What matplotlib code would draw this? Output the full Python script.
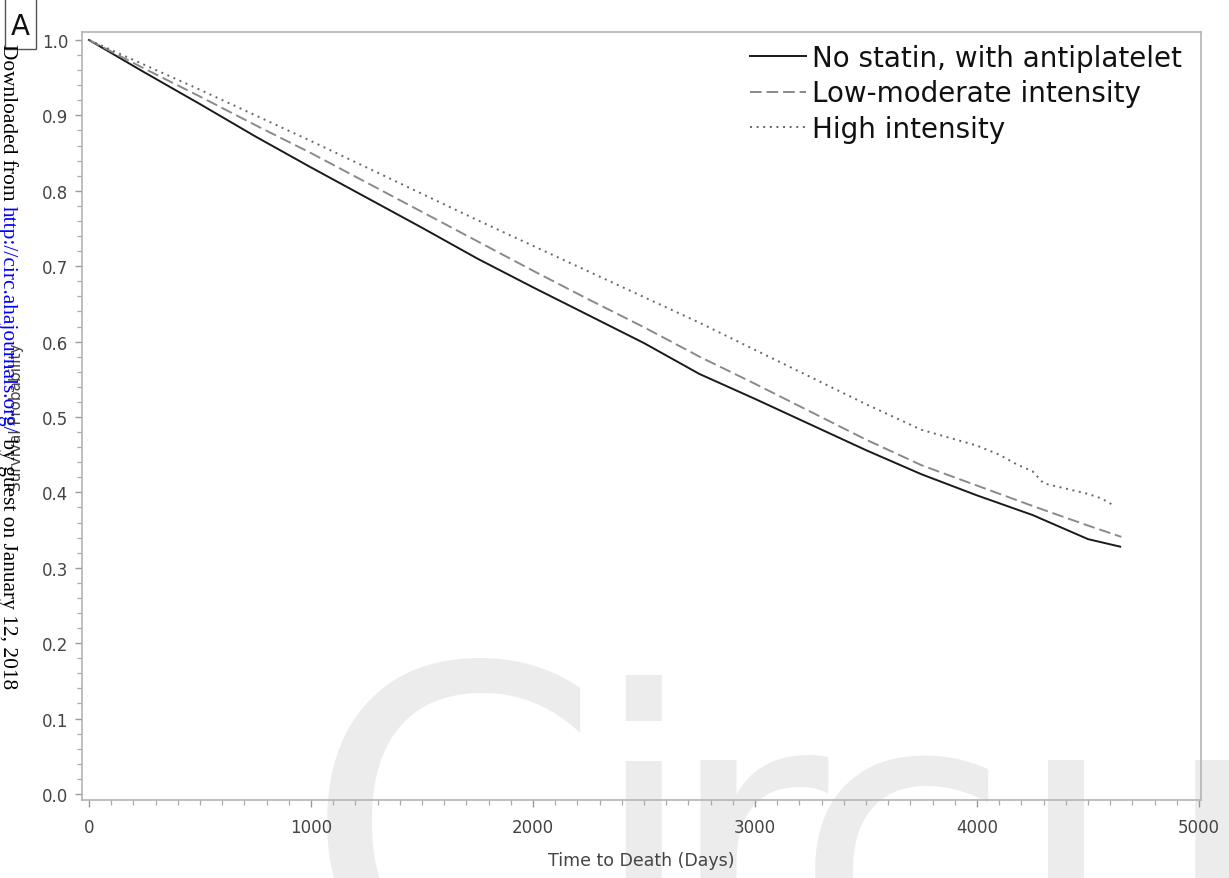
import matplotlib
matplotlib.use("Agg")
import matplotlib.pyplot as plt
from matplotlib.ticker import MultipleLocator, FormatStrFormatter
from matplotlib.patches import Rectangle

# ---- data ----
days_none = [0, 250, 500, 750, 1000, 1250, 1500, 1750, 2000, 2250, 2500, 2750,
             3000, 3250, 3500, 3750, 4000, 4250, 4500, 4645]
surv_none = [1.000, 0.957, 0.915, 0.872, 0.831, 0.791, 0.751, 0.710, 0.672, 0.635,
             0.598, 0.557, 0.524, 0.490, 0.456, 0.424, 0.396, 0.370, 0.338, 0.328]

days_low = [0, 250, 500, 750, 1000, 1250, 1500, 1750, 2000, 2250, 2500, 2750,
            3000, 3250, 3500, 3750, 4000, 4250, 4500, 4650]
surv_low = [1.000, 0.962, 0.925, 0.887, 0.850, 0.811, 0.772, 0.733, 0.694, 0.656,
            0.619, 0.580, 0.544, 0.507, 0.470, 0.436, 0.409, 0.382, 0.356, 0.341]

days_high = [0, 250, 500, 750, 1000, 1250, 1500, 1750, 2000, 2250, 2500, 2750,
             3000, 3250, 3500, 3750, 4000, 4100, 4180, 4250, 4300, 4400, 4500,
             4560, 4620]
surv_high = [1.000, 0.967, 0.934, 0.900, 0.866, 0.831, 0.796, 0.761, 0.727, 0.693,
             0.659, 0.625, 0.589, 0.553, 0.517, 0.483, 0.462, 0.450, 0.437, 0.428,
             0.412, 0.405, 0.398, 0.392, 0.382]

series_labels = ["No statin, with antiplatelet", "Low-moderate intensity", "High intensity"]
x_label = "Time to Death (Days)"
y_label = "Survival Probability"
x_ticks = [0, 1000, 2000, 3000, 4000, 5000]
y_ticks = [0.0, 0.1, 0.2, 0.3, 0.4, 0.5, 0.6, 0.7, 0.8, 0.9, 1.0]

W, H = 1229, 879
fig = plt.figure(figsize=(W / 100, H / 100), dpi=100)

def fx(px):
    return px / W

def fy(py):
    return 1 - py / H

# watermark (behind axes)
wm_color = "#ececec"
for ch, px, size in [("C", 303, 310), ("i", 587, 288), ("r", 664, 288),
                     ("c", 793, 288), ("u", 1014, 288)]:
    fig.text(fx(px), fy(979), ch, fontsize=size, color=wm_color,
             family="DejaVu Sans", ha="left", va="baseline", zorder=-5)

ax = fig.add_axes([fx(82), fy(801), fx(1201) - fx(82), fy(33) - fy(801)])
ax.patch.set_alpha(0)

ax.plot(days_none, surv_none, color="#1a1a1a", lw=1.4, solid_joinstyle="round",
        label=series_labels[0])
ax.plot(days_low, surv_low, color="#8a8a8a", lw=1.4, dashes=(6, 2.5),
        label=series_labels[1])
ax.plot(days_high, surv_high, color="#666666", lw=1.4, dashes=(1, 2.4),
        label=series_labels[2])

ax.set_xlim(-31.5, 5009)
ax.set_ylim(-0.008, 1.0106)
ax.set_xticks(x_ticks)
ax.set_yticks(y_ticks)
ax.xaxis.set_minor_locator(MultipleLocator(100))
ax.yaxis.set_minor_locator(MultipleLocator(0.02))
ax.yaxis.set_major_formatter(FormatStrFormatter("%.1f"))

for s in ax.spines.values():
    s.set_color("#b4b4b4")
    s.set_linewidth(1.2)

ax.tick_params(which="major", direction="out", length=5, width=1, color="#999999",
               labelsize=12, labelcolor="#444444")
ax.tick_params(which="minor", direction="out", length=3.5, width=0.9, color="#aaaaaa")
ax.tick_params(axis="x", which="major", pad=8)
ax.tick_params(axis="y", which="major", pad=5)

ax.set_xlabel(x_label, fontsize=12.5, color="#444444", va="center")
ax.xaxis.set_label_coords(0.5, (801 - 861) / 768)
ax.set_ylabel(y_label, fontsize=11, color="#444444", va="center")
ax.yaxis.set_label_coords((17 - 82) / 1119, 0.5)

leg = ax.legend(loc="upper left", bbox_to_anchor=(fx(750), fy(45)),
                bbox_transform=fig.transFigure, frameon=False, fontsize=20,
                handlelength=2.0, handletextpad=0.25, labelspacing=0.27,
                borderpad=0, borderaxespad=0)
for t in leg.get_texts():
    t.set_color("#111111")

# panel letter
fig.add_artist(Rectangle((fx(5), fy(50)), fx(36) - fx(5), fy(-2) - fy(50),
                         transform=fig.transFigure, facecolor="white",
                         edgecolor="#555555", lw=1))
fig.text(fx(20.5), fy(27), "A", fontsize=20, ha="center", va="center", color="#111111")

# sidebar download note
side_parts = [("Downloaded from ", "black"),
              ("http://circ.ahajournals.org/", "blue"),
              (" by guest on January 12, 2018", "black")]
renderer = fig.canvas.get_renderer()
ypos = 44.0
for txt, col in side_parts:
    t = fig.text(fx(3), fy(ypos), txt, fontsize=15.4, family="Liberation Serif",
                 color=col, rotation=270, rotation_mode="anchor",
                 ha="left", va="baseline")
    bb = t.get_window_extent(renderer)
    ypos += bb.height

fig.savefig("out.png", dpi=100)
